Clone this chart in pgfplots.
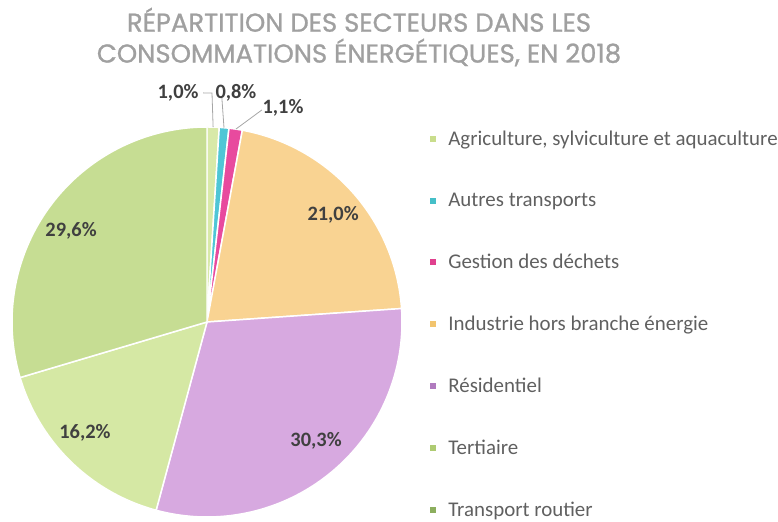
\documentclass[border=0pt]{standalone}
\usepackage{fontspec}
\setmainfont{Carlito}
\newfontfamily\titlefont[FakeBold=1]{Poppins}
\usepackage{pgfplots}
\usepackage{pgfplotstable}
\usepgfplotslibrary{polar}
\pgfplotsset{compat=1.18}

\definecolor{titlegray}{HTML}{A0A0A0}
\definecolor{legendgray}{HTML}{606060}
\definecolor{labelgray}{HTML}{404040}
\definecolor{leadergray}{HTML}{A6A6A6}
% slice colours
\definecolor{cAgr}{HTML}{D8E9A8}
\definecolor{cAut}{HTML}{4FC6D6}
\definecolor{cGes}{HTML}{E84A9E}
\definecolor{cInd}{HTML}{F9D392}
\definecolor{cRes}{HTML}{D7A9E0}
\definecolor{cTer}{HTML}{D5E8A4}
\definecolor{cTra}{HTML}{C6DD93}
% legend colours
\definecolor{lAgr}{HTML}{C9DD8C}
\definecolor{lAut}{HTML}{45BFC8}
\definecolor{lGes}{HTML}{E0408E}
\definecolor{lInd}{HTML}{F2C46E}
\definecolor{lRes}{HTML}{B07ABE}
\definecolor{lTer}{HTML}{AECB72}
\definecolor{lTra}{HTML}{8CAE5E}

% part of each sector in %, clockwise from 12 o'clock
\pgfplotstableread[col sep=comma]{
value,color
1.0,cAgr
0.8,cAut
1.1,cGes
21.0,cInd
30.3,cRes
16.2,cTer
29.6,cTra
}\piedata

\begin{document}
\begin{tikzpicture}[x=1bp,y=1bp,
    lbl/.style={font=\bfseries\fontsize{20.5}{24}\selectfont, text=labelgray}]
\path[use as bounding box] (0,0) rectangle (778,522);

\begin{polaraxis}[
    at={(12bp,5bp)}, anchor=south west,
    scale only axis, width=390bp, height=390bp,
    hide axis, xmin=0, xmax=360, ymin=0, ymax=1,
    clip=false,
    legend style={draw=none, fill=none, at={(axis description cs:1.064,1.0)},
      anchor=north west, row sep=42bp, text=legendgray,
      font=\fontsize{21}{24}\selectfont},
    legend cell align=left,
    legend image code/.code={\fill[#1, draw=none] (0bp,-3bp) rectangle (6bp,3bp); \path (16bp,0bp);},
  ]
  \pgfmathsetmacro\cum{0}
  \pgfplotsforeachungrouped \i in {0,...,6}{%
    \pgfplotstablegetelem{\i}{value}\of\piedata
    \let\val\pgfplotsretval
    \pgfplotstablegetelem{\i}{color}\of\piedata
    \let\col\pgfplotsretval
    \pgfmathsetmacro\aend{90-3.6*\cum}
    \pgfmathsetmacro\cum{\cum+\val}
    \pgfmathsetmacro\astart{90-3.6*\cum}
    \edef\doslice{\noexpand\addplot[forget plot, fill=\col, draw=white,
      line width=1.5pt, line join=round, domain=\astart:\aend, samples=90]
      {1} -- (axis cs:0,0) -- cycle;}
    \doslice
  }

  \addlegendimage{fill=lAgr}\addlegendentry{Agriculture, sylviculture et aquaculture}
  \addlegendimage{fill=lAut}\addlegendentry{Autres transports}
  \addlegendimage{fill=lGes}\addlegendentry{Gestion des déchets}
  \addlegendimage{fill=lInd}\addlegendentry{Industrie hors branche énergie}
  \addlegendimage{fill=lRes}\addlegendentry{Résidentiel}
  \addlegendimage{fill=lTer}\addlegendentry{Tertiaire}
  \addlegendimage{fill=lTra}\addlegendentry{Transport routier}

  % data labels
  \node[lbl] at (axis cs:146.2,0.839) {29,6\%};
  \node[lbl] at (axis cs:40.3,0.848) {21,0\%};
  \node[lbl] at (axis cs:-137.7,0.846) {16,2\%};
  \node[lbl] at (axis cs:-47.5,0.828) {30,3\%};
  \node[lbl] at (axis cs:97.2,1.184) {1,0\%};
  \node[lbl] at (axis cs:82.8,1.184) {0,8\%};
  \node[lbl] at (axis cs:70.45,1.164) {1,1\%};
  % leader lines
  \draw[leadergray, line width=0.8bp] (axis cs:91.0,1.175) -- (axis cs:88.75,1.175) -- (axis cs:88.2,1.0);
  \draw[leadergray, line width=0.8bp] (axis cs:86.2,1.151) -- (axis cs:85.0,1.0);
  \draw[leadergray, line width=0.8bp] (axis cs:75.5,1.123) -- (axis cs:81.5,1.0);
\end{polaraxis}

\node[font=\titlefont\fontsize{26}{31}\selectfont, text=titlegray, align=center]
  at (359,485) {RÉPARTITION DES SECTEURS DANS LES\\CONSOMMATIONS ÉNERGÉTIQUES, EN 2018};
\end{tikzpicture}
\end{document}
